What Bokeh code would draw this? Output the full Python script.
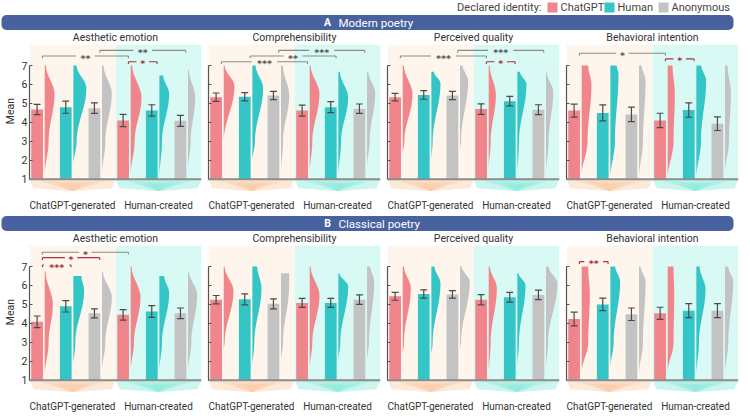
import numpy as np
from bokeh.plotting import figure
from bokeh.layouts import column, row
from bokeh.models import Range1d, LinearAxis, FixedTicker, Span, BoxAnnotation, Label
from bokeh.core.properties import value
from bokeh.embed import file_html
from bokeh.resources import INLINE

FONT = "Roboto"
STAR_FONT = "DejaVu Sans"

# ---------------- data ----------------
identities = ["ChatGPT", "Human", "Anonymous"]
sources = ["ChatGPT-generated", "Human-created"]
measures = ["Aesthetic emotion", "Comprehensibility", "Perceived quality", "Behavioral intention"]
section_letters = ["A", "B"]
section_names = ["Modern poetry", "Classical poetry"]
legend_title = "Declared identity:"
y_ticks = [1, 2, 3, 4, 5, 6, 7]

# order in each panel: ChatGPT-generated (ChatGPT, Human, Anonymous), Human-created (ChatGPT, Human, Anonymous)
modern_means = [
    [4.68, 4.80, 4.75, 4.10, 4.63, 4.08],
    [5.33, 5.35, 5.42, 4.62, 4.80, 4.72],
    [5.33, 5.45, 5.42, 4.70, 5.12, 4.67],
    [4.62, 4.50, 4.42, 4.10, 4.65, 3.93],
]
modern_se = [
    [0.27, 0.32, 0.28, 0.32, 0.30, 0.29],
    [0.22, 0.22, 0.22, 0.29, 0.29, 0.25],
    [0.20, 0.23, 0.22, 0.28, 0.25, 0.26],
    [0.34, 0.42, 0.38, 0.38, 0.38, 0.36],
]
classical_means = [
    [4.08, 4.90, 4.53, 4.45, 4.63, 4.53],
    [5.25, 5.27, 5.03, 5.08, 5.08, 5.25],
    [5.43, 5.55, 5.53, 5.25, 5.38, 5.50],
    [4.23, 5.00, 4.48, 4.53, 4.67, 4.67],
]
classical_se = [
    [0.31, 0.30, 0.24, 0.28, 0.31, 0.28],
    [0.22, 0.29, 0.26, 0.24, 0.24, 0.25],
    [0.21, 0.22, 0.20, 0.27, 0.26, 0.25],
    [0.36, 0.33, 0.33, 0.32, 0.37, 0.37],
]

# half-violin density outline: (min score, max score, density at max, score at peak, peak density, density at 3)
modern_density = [
    [(1.20, 7.00, 4, 5.5, 30, 12), (1.72, 7.00, 10, 5.8, 40, 10), (1.20, 7.00, 5, 5.5, 30, 10),
     (1.20, 7.00, 5, 5.3, 33, 12), (1.05, 6.47, 12, 5.5, 30, 8), (1.47, 6.77, 3, 5.3, 22, 8)],
    [(2.97, 7.00, 3, 5.9, 33, 0), (1.97, 7.00, 10, 5.8, 33, 8), (1.30, 7.00, 6, 5.4, 25, 6),
     (1.30, 7.00, 3, 5.5, 30, 8), (1.13, 6.67, 5, 5.3, 30, 8), (1.63, 6.67, 4, 5.55, 25, 8)],
    [(2.30, 7.00, 4, 5.47, 30, 5), (1.97, 6.67, 8, 6.05, 28, 4), (2.55, 7.00, 8, 6.2, 25, 3),
     (1.47, 7.00, 3, 5.45, 22, 6), (1.20, 6.67, 8, 6.0, 28, 5), (1.30, 6.67, 2, 5.6, 22, 8)],
    [(1.20, 7.00, 20, 6.0, 30, 18), (1.05, 7.00, 20, 6.5, 25, 14), (1.05, 7.00, 8, 6.2, 20, 12),
     (1.05, 7.00, 15, 5.5, 22, 18), (1.05, 7.00, 15, 6.2, 30, 14), (1.30, 7.00, 8, 5.5, 18, 12)],
]
classical_density = [
    [(1.20, 6.74, 3, 5.0, 25, 12), (1.70, 6.50, 25, 5.7, 33, 6), (1.47, 6.74, 3, 5.36, 30, 10),
     (1.47, 7.00, 3, 5.36, 30, 10), (1.47, 6.50, 15, 5.6, 30, 8), (1.47, 6.74, 3, 5.5, 28, 10)],
    [(2.60, 7.00, 3, 5.7, 30, 3), (1.63, 7.00, 15, 5.85, 28, 6), (1.96, 6.65, 25, 6.0, 25, 6),
     (1.63, 7.00, 3, 5.45, 30, 8), (1.96, 6.65, 3, 5.95, 30, 6), (2.00, 7.00, 10, 6.2, 22, 6)],
    [(2.30, 7.00, 4, 5.85, 25, 4), (2.30, 7.00, 10, 6.1, 28, 4), (2.60, 7.00, 5, 6.2, 30, 3),
     (1.30, 7.00, 4, 5.85, 25, 6), (1.70, 6.65, 4, 6.0, 25, 5), (1.55, 7.00, 8, 6.1, 35, 6)],
    [(1.40, 7.00, 20, 5.5, 25, 20), (1.63, 7.00, 15, 6.2, 30, 10), (1.30, 7.00, 5, 6.2, 20, 12),
     (1.40, 7.00, 18, 5.5, 20, 18), (1.20, 7.00, 10, 5.8, 28, 8), (1.30, 7.00, 10, 6.2, 25, 10)],
]

# significance: (bar a, bar b, stars, kind, level)
modern_sig = [
    [(0, 3, "**", "between", 1), (2, 5, "**", "between", 2), (3, 4, "*", "within", 0)],
    [(0, 3, "***", "between", 0), (1, 4, "**", "between", 1), (2, 5, "***", "between", 2)],
    [(0, 3, "***", "between", 1), (2, 5, "***", "between", 2), (3, 4, "*", "within", 0)],
    [(0, 3, "*", "between", 1.5), (3, 4, "*", "within", 0.5)],
]
classical_sig = [
    [(0, 1, "***", "within", -0.4), (0, 2, "*", "within", 0.9), (0, 3, "*", "between", 1.85)],
    [],
    [],
    [(0, 1, "**", "within", 0.2)],
]

# ---------------- style ----------------
ID_COLORS = ["#f0868c", "#34c6c6", "#c3c3c3"]
BG = ["#fef6ec", "#d9faf4"]
CHEV_LIGHT = ["#fde9d8", "#cbf6ef"]
CHEV_DARK = ["#fbbf96", "#78e8d6"]
SIG_COLORS = {"between": "#8a8a8a", "within": "#a8323e"}
STAR_COLORS = {"between": "#555555", "within": "#a8323e"}
BLUE = "#4862a0"
TXT = "#333333"
ERR = "#4a4a4a"
FW, FH = 172, 161
TOTAL_W = 734
DENS_SCALE = 1.0 / 88.0


def violin_outline(base, ymin, ymax, wtop, ypeak, wpeak, w3):
    knots = [(ymax, wtop), (ypeak, wpeak)]
    if ymin < 2.9 and ypeak > 3.1:
        knots.append((3.0, w3))
    knots.append((ymin, 0.0))
    ys, ws = [], []
    for (ya, wa), (yb, wb) in zip(knots[:-1], knots[1:]):
        t = np.linspace(0, 1, 16)
        e = 0.5 - 0.5 * np.cos(np.pi * t)
        ys.extend(list(ya + (yb - ya) * t))
        ws.extend(list(wa + (wb - wa) * e))
    xs = [base] + [base + w * DENS_SCALE for w in ws] + [base]
    ys = [ymax] + ys + [ymin]
    return xs, ys


def make_panel(title, means, se, dens, sig, first):
    p = figure(frame_width=FW, frame_height=FH, x_range=Range1d(0, 6), y_range=Range1d(0.35, 8.85),
               toolbar_location=None, output_backend="svg", x_axis_location=None, y_axis_location=None,
               min_border_left=0 if first else 6, min_border_right=1, min_border_top=0, min_border_bottom=0,
               outline_line_color=None, background_fill_color="white", border_fill_color="white")
    p.grid.visible = False

    # backgrounds
    p.quad(left=[0, 3], right=[3, 6], bottom=[1, 1], top=[8.1, 8.1], fill_color=BG, line_color=None)

    # chevrons under each source group
    for g in range(2):
        x0 = 3 * g
        p.patch([x0, x0 + 3, x0 + 2.86, x0 + 1.5, x0 + 0.14], [1, 1, 0.52, 0.36, 0.52],
                fill_color=CHEV_LIGHT[g], line_color=None)
        for k in range(1, 5):
            p.patch([x0 + 0.3 * k, x0 + 3 - 0.3 * k, x0 + 1.5], [1 - 0.07 * k, 1 - 0.07 * k, 0.36],
                    fill_color=CHEV_DARK[g], fill_alpha=0.22, line_color=None)

    xc = [i + 0.265 for i in range(6)]
    colors = ID_COLORS * 2
    p.vbar(x=xc, width=0.41, bottom=1, top=means, fill_color=colors, line_color=None)

    vx, vy = [], []
    for i, d in enumerate(dens):
        xs, ys = violin_outline(i + 0.53, *d)
        vx.append(xs)
        vy.append(ys)
    p.patches(vx, vy, fill_color=colors, line_color=None)

    p.add_layout(Span(location=1, dimension="width", line_color="#8c8c8c", line_width=2))

    lo = [m - s for m, s in zip(means, se)]
    hi = [m + s for m, s in zip(means, se)]
    cap = 0.12
    p.segment(x0=xc, y0=lo, x1=xc, y1=hi, line_color=ERR, line_width=1.2)
    p.segment(x0=[x - cap for x in xc], y0=hi, x1=[x + cap for x in xc], y1=hi, line_color=ERR, line_width=1.2)
    p.segment(x0=[x - cap for x in xc], y0=lo, x1=[x + cap for x in xc], y1=lo, line_color=ERR, line_width=1.2)

    # significance brackets
    sx0, sy0, sx1, sy1, scol = [], [], [], [], []
    tx, ty, tt, tc = [], [], [], []
    for a, b, stars, kind, lev in sig:
        y = 7.2 + 0.3 * lev
        xa, xb = a + 0.45, b + 0.45
        mid = (xa + xb) / 2
        gap = (3.2 * len(stars) + 3.0) / (FW / 6.0)
        c = SIG_COLORS[kind]
        for seg in [(xa, y, mid - gap, y), (mid + gap, y, xb, y), (xa, y, xa, y - 0.12), (xb, y, xb, y - 0.12)]:
            sx0.append(seg[0]); sy0.append(seg[1]); sx1.append(seg[2]); sy1.append(seg[3]); scol.append(c)
        tx.append(mid); ty.append(y - 0.11); tt.append(stars); tc.append(STAR_COLORS[kind])
    if sig:
        p.segment(x0=sx0, y0=sy0, x1=sx1, y1=sy1, line_color=scol, line_width=1.1)
        p.text(x=tx, y=ty, text=tt, text_color=tc, text_align="center", text_baseline="middle",
               text_font=value(STAR_FONT), text_font_size="9.5px", text_font_style="bold")

    # panel title
    p.text(x=[3], y=[8.5], text=[title], text_align="center", text_baseline="middle",
           text_font=value(FONT), text_font_size="10.5px", text_color=TXT)

    # axes
    if first:
        yax = LinearAxis(bounds=(1, 7), ticker=FixedTicker(ticks=y_ticks), axis_label="Mean")
        yax.major_label_text_font_size = "10.5px"
        yax.major_label_text_font = FONT
        yax.major_label_text_color = TXT
        yax.major_label_standoff = 2
        yax.axis_label_text_font = FONT
        yax.axis_label_text_font_size = "10.5px"
        yax.axis_label_text_font_style = "normal"
        yax.axis_label_text_color = TXT
        yax.axis_label_standoff = 2
        yax.minor_tick_line_color = None
    else:
        yax = LinearAxis(bounds=(1, 7), ticker=FixedTicker(ticks=[], minor_ticks=y_ticks))
        yax.minor_tick_in = 3
        yax.minor_tick_out = 0
        yax.minor_tick_line_color = "#555555"
    yax.major_tick_in = 3
    yax.major_tick_out = 0
    yax.axis_line_color = "#555555"
    yax.axis_line_width = 1.2
    yax.major_tick_line_color = "#555555"
    p.add_layout(yax, "left")

    xax = LinearAxis(ticker=FixedTicker(ticks=[1.5, 4.5]),
                     major_label_overrides={1.5: sources[0], 4.5: sources[1]})
    xax.axis_line_color = None
    xax.major_tick_line_color = None
    xax.minor_tick_line_color = None
    xax.major_label_standoff = 2
    xax.major_label_text_font = FONT
    xax.major_label_text_font_size = "10px"
    xax.major_label_text_color = TXT
    p.add_layout(xax, "below")
    return p


def make_header(height, letter, name, with_legend):
    h = figure(width=TOTAL_W, height=height, x_range=Range1d(0, TOTAL_W), y_range=Range1d(0, height),
               toolbar_location=None, output_backend="svg", x_axis_location=None, y_axis_location=None,
               min_border=0, outline_line_color=None, background_fill_color="white", border_fill_color="white")
    h.grid.visible = False
    top, bottom = 15.5, 0.5
    h.add_layout(BoxAnnotation(left=1, right=TOTAL_W - 1, bottom=bottom, top=top, fill_color=BLUE,
                               fill_alpha=1.0, line_color=None, border_radius=5))
    ymid = (top + bottom) / 2
    h.add_layout(Label(x=327, y=ymid, text=letter, text_align="center", text_baseline="middle",
                       text_font=FONT, text_font_size="10.5px", text_font_style="bold", text_color="white"))
    h.add_layout(Label(x=338, y=ymid, text=name, text_align="left", text_baseline="middle",
                       text_font=FONT, text_font_size="11.5px", text_color="white"))
    if with_legend:
        ly = 23.0
        h.text(x=[541], y=[ly], text=[legend_title], text_align="right", text_baseline="middle",
               text_font=value(FONT), text_font_size="11px", text_color="#444444")
        sq_x = [547, 604, 658]
        h.rect(x=[s + 5 for s in sq_x], y=[ly] * 3, width=10, height=10, fill_color=ID_COLORS, line_color=None)
        h.text(x=[s + 13 for s in sq_x], y=[ly] * 3, text=identities, text_align="left", text_baseline="middle",
               text_font=value(FONT), text_font_size="11px", text_color="#444444")
    return h


all_means = [modern_means, classical_means]
all_se = [modern_se, classical_se]
all_dens = [modern_density, classical_density]
all_sig = [modern_sig, classical_sig]

children = []
for s in range(2):
    if s == 0:
        children.append(make_header(30, section_letters[s], section_names[s], True))
    else:
        children.append(make_header(18, section_letters[s], section_names[s], False))
    panels = [make_panel(measures[k], all_means[s][k], all_se[s][k], all_dens[s][k], all_sig[s][k], k == 0)
              for k in range(4)]
    children.append(row(*panels))

layout = column(*children)
open("out.html", "w").write(file_html(layout, INLINE))
